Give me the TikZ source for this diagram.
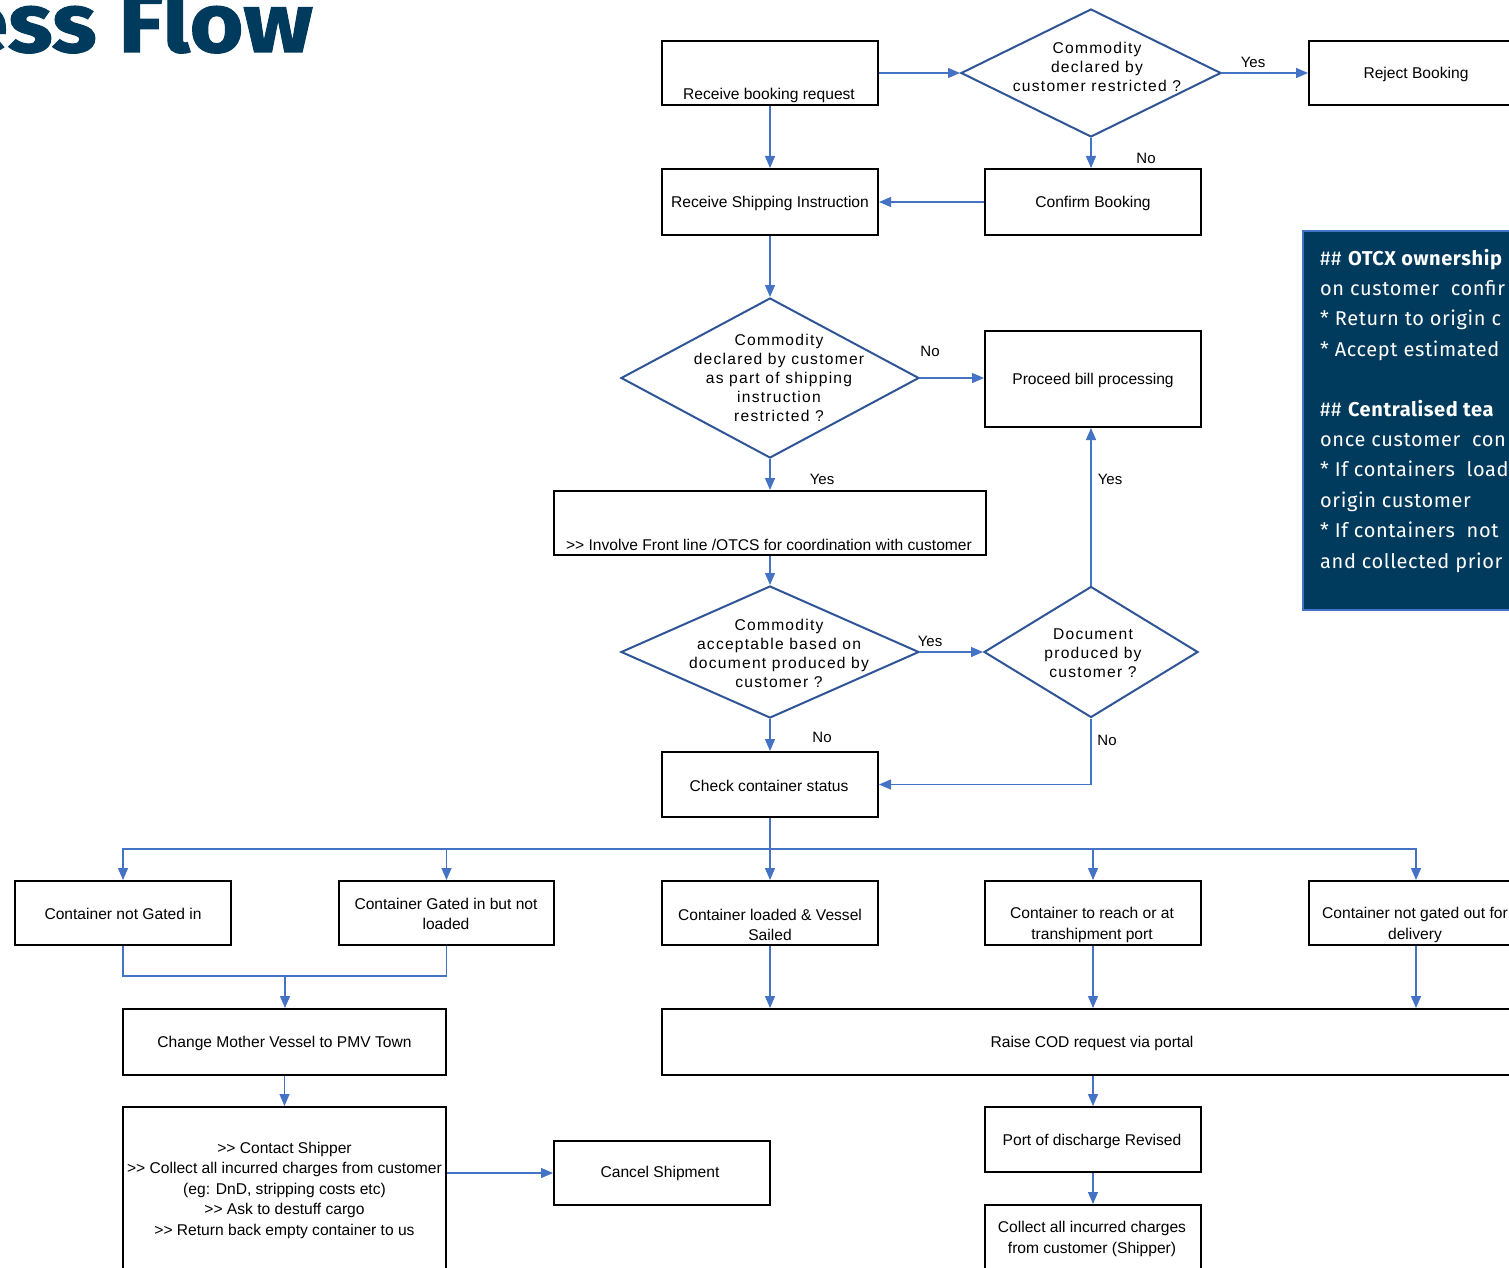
\documentclass[tikz,border=0pt]{standalone}
\usepackage{fontspec}
\setmainfont{Liberation Sans}
\newfontfamily\dfont[LetterSpace=8]{Liberation Sans}
\newfontfamily\firafont[LetterSpace=3]{Fira Sans}
\newfontfamily\titlefont[FakeStretch=1.1,FakeBold=1.2]{Fira Sans}
\newcommand\gtgt{>\kern0pt>}
\usetikzlibrary{shapes.geometric,arrows.meta,calc}
\definecolor{conn}{HTML}{4472C4}
\definecolor{dia}{HTML}{2F5597}
\definecolor{navy}{HTML}{003A5C}
\begin{document}
\begin{tikzpicture}[x=1pt,y=-1pt,
  box/.style={draw=black,line width=2pt,rectangle,inner sep=0pt},
  dec/.style={draw=dia,line width=2pt,diamond,inner sep=0pt},
  dtext/.style={font=\dfont\fontsize{15.6}{19}\selectfont,align=center,inner sep=0pt},
  txt/.style={font=\fontsize{15.6}{20.5}\selectfont,align=center,inner sep=0pt},
  lbl/.style={font=\fontsize{15}{18}\selectfont,inner sep=0pt},
  arr/.style={draw=conn,line width=1.3pt,-{Triangle[length=12pt,width=10pt]}},
  ln/.style={draw=conn,line width=1.3pt},
  note/.style={font=\firafont\fontsize{20}{30}\selectfont,text=white,anchor=base west,inner sep=0pt}]
\useasboundingbox (0,0) rectangle (1509,1268);
\clip (0,0) rectangle (1509,1268);
\fill[white] (0,0) rectangle (1509,1268);

% title
\node[anchor=base east,inner sep=0pt,text=navy,font=\titlefont\bfseries\fontsize{84}{84}\selectfont] (title) at (313,52) {Process Flow};

% note box
\node[fill=navy,draw=conn,line width=1.5pt,minimum width=230pt,minimum height=379pt,anchor=north west,inner sep=0pt] (notebox) at (1302,230) {};
\node[note] (n1) at (1320,265) {\#\# \textbf{OTCX ownership}};
\node[note] (n2) at (1320,295) {on customer\ \ confir};
\node[note] (n3) at (1320,325) {* Return to origin c};
\node[note] (n4) at (1320,356) {* Accept estimated};
\node[note] (n5) at (1320,416) {\#\# \textbf{Centralised tea}};
\node[note] (n6) at (1320,446) {once customer\ \ con};
\node[note] (n7) at (1320,476) {* If containers\ \ load};
\node[note] (n8) at (1320,507) {origin customer};
\node[note] (n9) at (1320,537) {* If containers\ \ not};
\node[note] (n10) at (1320,568) {and collected prior};

% boxes
\node[box,minimum width=216pt,minimum height=64pt] (rb) at (770,73) {};
\node[txt] (rbt) at (769,95.5) {Receive booking request};
\node[box,minimum width=214pt,minimum height=64pt] (rej) at (1416,73) {};
\node[txt] (rejt) at (1416,74) {Reject Booking};
\node[box,minimum width=216pt,minimum height=66pt] (cb) at (1093,202) {};
\node[txt] (cbt) at (1093,203.5) {Confirm Booking};
\node[box,minimum width=216pt,minimum height=66pt] (rsi) at (770,202) {};
\node[txt] (rsit) at (770,203.5) {Receive Shipping Instruction};
\node[box,minimum width=216pt,minimum height=96pt] (pbp) at (1093,379) {};
\node[txt] (pbpt) at (1093,380) {Proceed bill processing};
\node[box,minimum width=432pt,minimum height=64pt] (inv) at (770,523) {};
\node[txt] (invt) at (769,545) {\gtgt{} Involve Front line /OTCS for coordination with customer};
\node[box,minimum width=216pt,minimum height=65pt] (ccs) at (770,784.5) {};
\node[txt] (ccst) at (769,786) {Check container status};

\node[box,minimum width=216pt,minimum height=64pt] (c1) at (123,913) {};
\node[txt] (c1t) at (123,914) {Container not Gated in};
\node[box,minimum width=215pt,minimum height=64pt] (c2) at (446.5,913) {};
\node[txt] (c2t) at (446,914) {Container Gated in but not\\loaded};
\node[box,minimum width=216pt,minimum height=64pt] (c3) at (770,913) {};
\node[txt] (c3t) at (770,925) {Container loaded \& Vessel\\Sailed};
\node[box,minimum width=216pt,minimum height=64pt] (c4) at (1093,913) {};
\node[txt] (c4t) at (1092,925) {Container to reach or at\\transhipment port};
\node[box,minimum width=214pt,minimum height=64pt] (c5) at (1416,913) {};
\node[txt] (c5t) at (1415,925) {Container not gated out for\\delivery};

\node[box,minimum width=323pt,minimum height=66pt] (mv) at (284.5,1042) {};
\node[txt] (mvt) at (284.5,1043) {Change Mother Vessel to PMV Town};
\node[box,minimum width=323pt,minimum height=164pt] (con) at (284.5,1189) {};
\node[txt] (cont) at (284.5,1190) {\gtgt{} Contact Shipper\\\gtgt{} Collect all incurred charges from customer\\(eg: DnD, stripping costs etc)\\\gtgt{} Ask to destuff cargo\\\gtgt{} Return back empty container to us};
\node[box,minimum width=216pt,minimum height=64pt] (cs) at (662,1173) {};
\node[txt] (cst) at (660,1173) {Cancel Shipment};
\node[box,minimum width=860pt,minimum height=66pt] (raise) at (1092,1042) {};
\node[txt] (raiset) at (1092,1043) {Raise COD request via portal};
\node[box,minimum width=216pt,minimum height=65pt] (pod) at (1093,1139.5) {};
\node[txt] (podt) at (1092,1141) {Port of discharge Revised};
\node[box,minimum width=216pt,minimum height=66pt] (col) at (1093,1238) {};
\node[txt] (colt) at (1092,1239) {Collect all incurred charges\\from customer (Shipper)};

% decisions
\node[dec,minimum width=260pt,minimum height=128pt] (d1) at (1091,73) {};
\node[dtext] (d1t) at (1097,67) {Commodity\\declared by\\customer restricted ?};
\node[dec,minimum width=298pt,minimum height=160pt] (d2) at (770,378) {};
\node[dtext] (d2t) at (779,378) {Commodity\\declared by customer\\as part of shipping\\instruction\\restricted ?};
\node[dec,minimum width=298pt,minimum height=132pt] (d3) at (770,652) {};
\node[dtext] (d3t) at (779,653) {Commodity\\acceptable based on\\document produced by\\customer ?};
\node[dec,minimum width=214pt,minimum height=131pt] (d4) at (1091,652) {};
\node[dtext] (d4t) at (1093,653) {Document\\produced by\\customer ?};

% connectors
\draw[arr] (rb.east |- d1.west) -- (d1.west);
\draw[arr] (rb.south) -- (rsi.north);
\draw[arr] (d1.east) -- (rej.west |- d1.east) node[lbl] at (1253,62) {Yes};
\draw[arr] (d1.south) -- (d1.south |- cb.north) node[lbl] at (1146,158) {No};
\draw[arr] (cb.west) -- (rsi.east);
\draw[arr] (rsi.south) -- (d2.north);
\draw[arr] (d2.east) -- (pbp.west |- d2.east) node[lbl] at (930,351) {No};
\draw[arr] (d2.south) -- (inv.north) node[lbl] at (822,479) {Yes};
\draw[arr] (inv.south) -- (d3.north);
\draw[arr] (d3.east) -- (d4.west) node[lbl] at (930,641) {Yes};
\draw[arr] (d3.south) -- (ccs.north) node[lbl] at (822,737) {No};
\draw[arr] (d4.north) -- (d4.north |- pbp.south) node[lbl] at (1110,479) {Yes};
\draw[arr] (d4.south) |- (ccs.east) node[lbl] at (1107,740) {No};

\coordinate (bus) at (770,849);
\draw[ln] (ccs.south) -- (bus);
\draw[arr] (bus) -| (c1.north);
\draw[arr] (bus) -| (c2.north);
\draw[arr] (bus) -- (c3.north);
\draw[arr] (bus) -| (c4.north);
\draw[arr] (bus) -| (c5.north);

\coordinate (join) at (285,976);
\draw[ln] (c1.south) |- (join);
\draw[ln] (c2.south) |- (join);
\draw[arr] (join) -- (join |- mv.north);
\draw[arr] (mv.south) -- (con.north);
\draw[arr] (cs.west -| con.east) -- (cs.west);

\draw[arr] (c3.south) -- (c3.south |- raise.north);
\draw[arr] (c4.south) -- (c4.south |- raise.north);
\draw[arr] (c5.south) -- (c5.south |- raise.north);
\draw[arr] (raise.south -| pod.north) -- (pod.north);
\draw[arr] (pod.south) -- (col.north);
\end{tikzpicture}
\end{document}
